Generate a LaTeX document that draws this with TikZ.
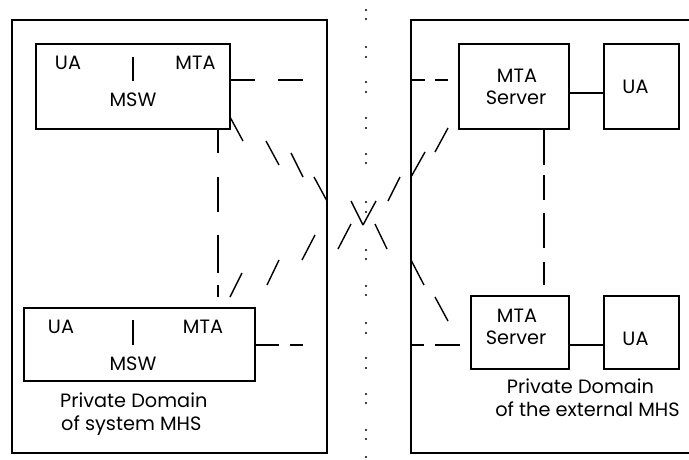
\documentclass[tikz,border=0pt]{standalone}
\usepackage{fontspec}
\setmainfont{Poppins}
\begin{document}
\begin{tikzpicture}[x=1pt,y=-1pt,
  box/.style={draw, line width=1.3pt, inner sep=0pt},
  conn/.style={line width=1.4pt},
  dsh/.style={line width=1.4pt},
  lbl/.style={font=\fontsize{19.3}{23}\selectfont, anchor=base, inner sep=0pt},
  ldot/.style={fill=black}]
\useasboundingbox (0,0) rectangle (689,459);
% outer domains
\node[box, minimum width=315pt, minimum height=433pt] (dleft) at (169.5,236.5) {};
\begin{scope}
\clip (0,0) rectangle (689,459);
\draw[line width=1.3pt] (695,20) -- (411,20) -- (411,453) -- (695,453);
\end{scope}
\coordinate (dright) at (411,236.5);
% inner boxes
\node[box, minimum width=194pt, minimum height=85pt] (msw1) at (133,86.5) {};
\node[box, minimum width=231pt, minimum height=73pt] (msw2) at (139.5,344.5) {};
\node[box, minimum width=110pt, minimum height=85pt] (srv1) at (514,86.5) {};
\node[box, minimum width=75pt, minimum height=85pt] (ua1) at (641.5,86.5) {};
\node[box, minimum width=98pt, minimum height=73pt] (srv2) at (520,332.5) {};
\node[box, minimum width=75pt, minimum height=73pt] (ua2) at (641.5,332.5) {};
% texts upper-left
\node[lbl] (t1) at (68,69) {UA};
\node[lbl] (t2) at (195.5,69) {MTA};
\node[lbl] (t3) at (133,106) {MSW};
\draw[conn] (133,57) -- (133,81);
% texts lower-left
\node[lbl] (t4) at (61,333) {UA};
\node[lbl] (t5) at (203,333) {MTA};
\node[lbl] (t6) at (133,370) {MSW};
\draw[conn] (133,320) -- (133,345);
\node[lbl, anchor=base west] (t7) at (60,407) {Private Domain};
\node[lbl, anchor=base west] (t8) at (61,430) {of system MHS};
% right texts
\node[lbl] (t9) at (517,82) {MTA};
\node[lbl] (t10) at (516,104) {Server};
\node[lbl] (t11) at (635.5,93) {UA};
\node[lbl] (t12) at (517,322) {MTA};
\node[lbl] (t13) at (516,344) {Server};
\node[lbl] (t14) at (635.5,345) {UA};
\node[lbl] (t15) at (580.5,393) {Private Domain};
\node[lbl] (t16) at (587.5,416) {of the external MHS};
% solid connectors
\draw[conn] ([yshift=-6.5pt]srv1.east) -- ([yshift=-6.5pt]ua1.west);
\draw[conn] ([yshift=-12.5pt]srv2.east) -- ([yshift=-12.5pt]ua2.west);
% horizontal dashed
\draw[dsh] (230,80) -- (255,80) (278,80) -- (303,80);
\draw[dsh] (255,345) -- (279,345) (290,345) -- (303,345);
\draw[dsh] (411,80) -- (425,80) (435,80) -- (448,80);
\draw[dsh] (411,345) -- (424,345) (435,345) -- (460,345);
% vertical dashed
\draw[dsh] (218,128) -- (218,153) (218,177) -- (218,212) (218,235) -- (218,273) (218,285) -- (218,297);
\draw[dsh] (544,129) -- (544,165) (544,175) -- (544,200) (544,213) -- (544,248) (544,262) -- (544,285);
% diagonal down-right
\draw[dsh] (230,117) -- (243,141) (266,141) -- (279,165) (291,153) -- (303,177) (314,177) -- (327,201)
  (351,201) -- (363,225) (375,224) -- (387,249) (411,260) -- (424,285) (435,297) -- (448,321);
% diagonal up-right
\draw[dsh] (230,297) -- (242,273) (267,285) -- (279,260) (302,260) -- (315,235) (338,249) -- (351,224)
  (363,225) -- (376,201) (388,201) -- (400,177) (411,177) -- (425,152) (435,152) -- (448,128);
% dotted border
\foreach \yy in {10,19,47,57,82,92,118,128,154,163,202,212,250,259,286,295,323,333,358,368,394,403,430,439,457}
  \fill[ldot] (366,\yy) circle (1.1pt);
\end{tikzpicture}
\end{document}
